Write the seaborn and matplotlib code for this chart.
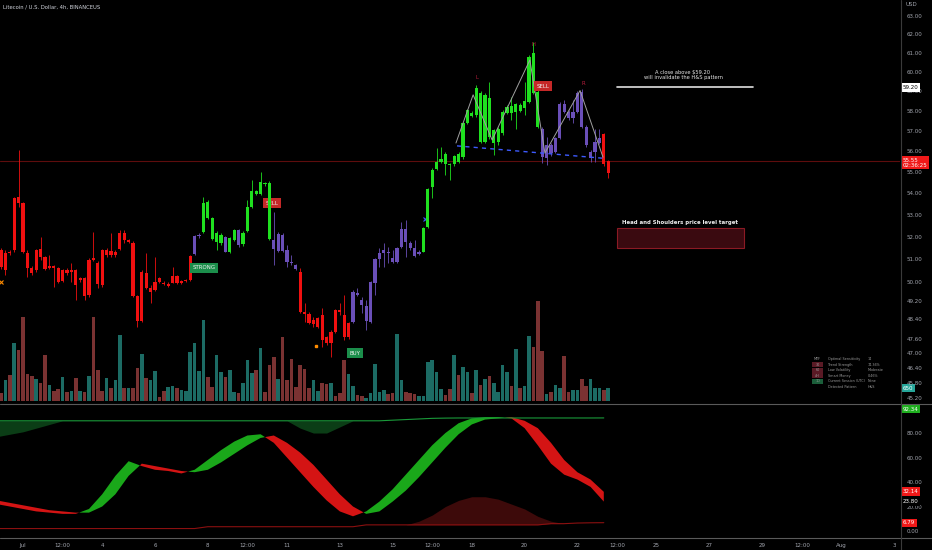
import numpy as np
import pandas as pd
import seaborn as sns
import matplotlib.pyplot as plt
import matplotlib.dates as mdates
from matplotlib.patches import Rectangle
from matplotlib.lines import Line2D

sns.set_theme(style='dark')
plt.rcParams['font.family'] = ['DejaVu Sans']

# ---- candle data (4h, LTC/USD) ----
opens = [51.41, 51.26, 51.3, 51.41, 53.53, 53.53, 51.26, 50.59, 50.52, 51.46,
         51.08, 50.6, 50.7, 50.6, 50.06, 50.5, 50.45, 50.52, 50.1, 50.16,
         49.44, 50.96, 50.84, 49.87, 51.41, 51.2, 51.33, 51.44, 52.19, 51.85,
         51.72, 49.41, 48.35, 50.38, 49.73, 49.65, 49.99, 49.97, 49.9, 49.97,
         50.26, 49.97, 50.05, 50.09, 51.24, 52.04, 52.23, 53.61, 52.84, 51.77,
         52.09, 51.99, 51.33, 51.85, 52.29, 51.68, 52.27, 53.35, 54.1, 53.95,
         54.47, 54.5, 51.85, 51.37, 52.09, 51.41, 50.89, 50.74, 50.45,
         48.7, 48.63, 48.2, 48.45, 48.58, 47.4, 47.4, 47.89, 48.8, 48.58,
         47.68, 48.31, 49.54, 49.22, 48.97, 48.31, 49.97, 50.99, 51.29, 51.33,
         51.03, 50.89, 51.56, 52.34, 51.72, 51.48, 51.24, 51.33, 52.46, 54.29,
         55.14, 55.5, 55.87, 55.39, 55.37, 55.5, 55.72, 57.39, 57.89, 57.8,
         58.9, 56.48, 58.64, 56.4, 57.12, 56.89, 57.92, 58.26, 57.97, 58.3,
         58.13, 58.47, 60.98, 58.99, 57.12, 55.67, 56.31, 55.98, 56.64, 58.35,
         57.97, 57.63, 57.97, 58.99, 57.22, 55.98, 55.98, 56.64, 56.86, 54.95]
highs = [51.5, 51.41, 51.4, 53.85, 56.07, 53.6, 51.41, 50.7, 51.45, 52.01,
         51.15, 51.2, 50.75, 50.65, 50.55, 50.6, 50.82, 50.55, 50.2, 50.2,
         51.03, 52.22, 50.9, 51.45, 51.5, 52.15, 51.4, 52.29, 52.3, 51.9,
         51.8, 49.45, 50.5, 51.26, 49.85, 51.11, 50.2, 50.05, 49.98, 50.67,
         50.3, 50.1, 50.12, 51.2, 52.1, 52.15, 53.84, 53.7, 52.9, 52.25,
         52.15, 52.05, 52.0, 52.35, 52.35, 52.25, 53.69, 54.63, 54.15, 54.99,
         54.55, 54.6, 53.15, 52.2, 52.15, 51.63, 51.18, 50.8, 50.6,
         49.08, 48.7, 48.52, 48.5, 48.87, 47.7, 47.95, 48.85, 49.08, 49.44,
         48.3, 49.65, 49.73, 49.37, 49.22, 50.05, 51.05, 51.48, 51.7, 51.56,
         51.41, 51.55, 52.68, 52.77, 51.8, 51.85, 51.4, 52.45, 54.25, 55.2,
         56.16, 56.24, 55.95, 55.45, 55.85, 55.95, 57.45, 58.1, 58.0, 59.3,
         59.0, 58.9, 59.5, 57.1, 57.2, 58.05, 58.3, 58.73, 58.4, 58.4,
         59.49, 60.9, 61.6, 59.05, 57.2, 56.72, 56.4, 56.7, 58.45, 58.56,
         58.05, 58.56, 59.0, 59.1, 57.3, 56.05, 57.12, 57.12, 56.9, 55.6]
lows = [50.55, 50.3, 51.2, 51.3, 53.37, 51.25, 50.23, 50.3, 50.45, 50.96,
        50.5, 50.55, 49.8, 49.95, 50.0, 50.3, 50.01, 49.22, 50.0, 49.22,
        49.37, 50.9, 49.73, 49.8, 51.1, 51.11, 51.1, 51.41, 51.7, 51.7,
        49.35, 48.1, 48.3, 49.7, 49.08, 49.6, 49.95, 49.85, 49.8, 49.95,
        49.9, 49.9, 50.0, 50.05, 51.2, 51.95, 52.18, 52.8, 51.85, 51.41,
        51.65, 51.3, 51.25, 51.8, 51.55, 51.6, 52.2, 53.3, 53.9, 53.9,
        54.35, 51.85, 50.74, 51.3, 51.3, 50.67, 50.75, 50.5, 48.65,
        48.31, 48.2, 48.1, 48.05, 47.27, 47.35, 46.86, 47.85, 48.6, 47.54,
        47.6, 48.25, 49.4, 48.66, 47.96, 48.25, 49.44, 50.67, 50.67, 50.82,
        50.85, 50.85, 51.5, 51.11, 51.4, 51.1, 51.2, 51.3, 52.4, 53.77,
        55.1, 55.42, 54.87, 54.63, 55.3, 55.45, 55.65, 57.35, 57.7, 57.7,
        56.4, 56.4, 56.6, 55.82, 56.3, 56.8, 57.85, 57.55, 57.12, 57.95,
        57.8, 58.4, 58.85, 57.15, 55.42, 55.34, 55.8, 55.9, 56.6, 57.9,
        57.55, 57.39, 57.9, 57.15, 56.2, 55.5, 55.5, 56.35, 55.3, 54.72]
closes = [50.66, 50.52, 51.25, 53.77, 53.85, 51.33, 50.59, 50.4, 51.41, 51.11,
          50.56, 50.7, 50.62, 50.0, 50.52, 50.4, 50.52, 49.87, 50.16, 49.41,
          50.96, 51.03, 49.91, 51.41, 51.18, 51.35, 51.2, 52.15, 51.85, 51.78,
          49.41, 48.35, 50.45, 49.73, 49.58, 49.99, 50.16, 49.9, 49.84, 50.26,
          49.97, 50.05, 50.09, 51.14, 52.04, 52.09, 53.56, 52.84, 51.89, 52.18,
          51.72, 51.33, 51.94, 52.29, 51.63, 52.18, 53.35, 54.12, 53.95, 54.55,
          54.42, 51.89, 51.44, 52.13, 51.37, 50.89, 50.82, 50.55, 48.7,
          48.63, 48.24, 48.38, 48.1, 47.54, 47.65, 47.89, 48.8, 48.7, 47.68,
          48.26, 49.58, 49.44, 49.01, 48.35, 50.01, 50.99, 51.29, 51.41, 51.26,
          50.89, 51.48, 52.34, 51.77, 51.48, 51.14, 51.33, 52.38, 54.19, 55.11,
          55.5, 55.62, 55.39, 55.34, 55.78, 55.88, 57.39, 58.05, 57.75, 59.16,
          56.48, 58.82, 56.72, 57.05, 56.48, 57.97, 58.22, 57.89, 58.35, 58.02,
          58.52, 60.8, 58.9, 57.22, 55.74, 56.31, 55.9, 56.64, 58.35, 57.97,
          57.63, 57.97, 58.9, 57.22, 56.31, 55.67, 56.48, 56.4, 55.4, 55.55]
volumes = [380, 1050, 1300, 2930, 2550, 4220, 1350, 1250, 1130, 930,
           2330, 800, 520, 620, 1220, 470, 520, 1180, 520, 470,
           1250, 4220, 1550, 520, 1180, 630, 1050, 3330, 630, 630,
           630, 1680, 2380, 1180, 1050, 1520, 220, 520, 720, 750,
           650, 550, 520, 2480, 2920, 1520, 4080, 1220, 680, 2320,
           1470, 1220, 1550, 470, 420, 920, 2050, 1420, 1550, 2680,
           470, 1800, 2220, 1130, 3220, 1080, 2130, 720, 1800,
           1630, 670, 1050, 520, 920, 850, 920, 250, 380, 2050,
           1350, 750, 300, 250, 130, 420, 1880, 470, 550, 350,
           420, 3350, 1080, 430, 420, 350, 250, 250, 1970, 2050,
           1470, 580, 300, 580, 2300, 1300, 1720, 1470, 420, 1580,
           800, 1130, 1250, 880, 470, 1800, 1470, 750, 2630, 630,
           750, 3250, 2720, 5020, 2520, 330, 470, 800, 630, 2250,
           470, 550, 550, 1130, 750, 1130, 630, 630, 550, 650]
# t = teal (up) volume bar, r = red (down) volume bar
vol_dir = list('rtrtrrrrtr' 'rtrrtrtrtr' 'trrrtrttrt' 'rrtrttrrtt' 'rttttttrrt'
               'trttrtttrt' 'rrrtrrrrr' 'rrttrrtrrr' 'ttrrtttttr' 'rttrrrtttt'
               'ttrrtrttrt' 'rtrttttrtr' 'ttrrrtrttr' 'rttrrtttrt')
# trend state colouring of the candles (run lengths)
trend_runs = [('r', 44), ('p', 2), ('g', 5), ('p', 1), ('g', 2), ('p', 1),
              ('g', 7), ('p', 6), ('r', 12), ('p', 16), ('g', 27), ('p', 14),
              ('r', 2)]

# ---- oscillator (lower pane), one value every 12h ----
osc_fast = [22, 20, 18, 16, 15, 14, 14, 18, 30, 45, 57, 53, 50, 49, 47, 50,
            58, 66, 73, 78, 79, 72, 60, 48, 36, 25, 16, 12, 16, 24, 34, 46,
            58, 70, 80, 88, 92, 93, 93, 92, 84, 70, 55, 46, 42, 36, 24]
osc_slow = [25, 23, 21, 19, 17, 16, 15, 15, 20, 30, 45, 55, 53, 51, 49, 48,
            50, 56, 63, 70, 76, 78, 72, 64, 54, 42, 30, 20, 14, 16, 24, 33,
            44, 56, 68, 79, 87, 91, 92, 93, 90, 84, 72, 58, 48, 42, 32]
osc_top = [90, 90, 90, 90, 90, 90, 90, 90, 90, 90, 90, 90, 90, 90, 90, 90,
           90, 90, 90, 90, 90, 90, 90, 90, 90, 90, 90, 90, 90, 90, 90.5, 91,
           91.5, 92, 92.2, 92.3, 92.3, 92.3, 92.3, 92.3, 92.3, 92.3, 92.3,
           92.3, 92.3, 92.3, 92.34]
osc_top_cloud = [77, 79, 81, 84, 87, 90, 90, 90, 90, 90, 90, 90, 90, 90, 90,
                 90, 90, 90, 90, 90, 90, 90, 90, 84, 80, 80, 85, 90, 90, 90,
                 90.5, 91, 91.5, 92, 92.2, 92.3, 92.3, 92.3, 92.3, 92.3, 92.3,
                 92.3, 92.3, 92.3, 92.3, 92.3, 92.34]
osc_bottom = [2, 2, 2, 2, 2, 2, 2, 2, 2, 2, 2, 2, 2, 2, 2, 2, 3.5, 3.5, 3.5,
              3.5, 3.5, 3.5, 3.5, 3.5, 3.5, 3.5, 3.5, 3.5, 5, 5, 5, 5, 5, 5,
              5, 5, 5, 5, 5, 5, 5, 5, 6, 6, 6.5, 6.7, 6.79]
osc_bottom_cloud = [2, 2, 2, 2, 2, 2, 2, 2, 2, 2, 2, 2, 2, 2, 2, 2, 3.5, 3.5,
                    3.5, 3.5, 3.5, 3.5, 3.5, 3.5, 3.5, 3.5, 3.5, 3.5, 5, 5, 5,
                    5, 8, 13, 20, 25, 28, 28, 26, 22, 18, 12, 8, 6, 6.5, 6.7,
                    6.79]

# ---- build series ----
times = pd.date_range('2022-06-30 04:00', periods=len(closes), freq='4h')
xs = mdates.date2num(times)
trend = [c for c, n in trend_runs for _ in range(n)]
osc_t = mdates.date2num(pd.date_range('2022-06-30 00:00', periods=len(osc_fast), freq='12h'))

W, H = 932, 550
BG = '#000000'
AX_TXT = '#a3a6af'
COL = {'r': '#f01010', 'g': '#1fe01f', 'p': '#6a4fb8'}
VCOL = {'t': '#1c6b64', 'r': '#7a3232'}


def frac(x0, y0, x1, y1):
    return [x0 / W, 1 - y1 / H, (x1 - x0) / W, (y1 - y0) / H]


def day(d):
    return mdates.date2num(pd.Timestamp('2022-07-01') + pd.Timedelta(days=d))


fig = plt.figure(figsize=(9.32, 5.5), dpi=100, facecolor=BG)
axv = fig.add_axes(frac(0, 0, 900, 403))
ax = fig.add_axes(frac(0, 0, 900, 403), sharex=axv)
ax2 = fig.add_axes(frac(0, 405, 900, 537), sharex=axv)
axv.set_facecolor(BG)
ax.set_facecolor('none')
ax2.set_facecolor(BG)

x0, x1 = day(-23 / 26.4), day(877 / 26.4)

# volume
vc = [VCOL[d] for d in vol_dir]
axv.bar(xs, volumes, width=4 / 24 * 0.8, color=vc, linewidth=0)
axv.set_ylim(-100, 20150)
axv.set_yticks([])

# candles
cw = 4 / 24 * 0.75
cc = [COL[t] for t in trend]
ax.vlines(xs, lows, highs, colors=cc, linewidth=0.6, zorder=3)
bottoms = np.minimum(opens, closes)
heights = np.maximum(np.abs(np.array(closes) - np.array(opens)), 0.03)
ax.bar(xs, heights, bottom=bottoms, width=cw, color=cc, linewidth=0, zorder=4)

ax.set_yscale('log')
ax.set_ylim(45.01, 63.87)
pticks = [45.2, 45.8, 46.4, 47.0, 47.6, 48.4, 49.2, 50, 51, 52, 53, 54, 55,
          56, 57, 58, 59, 60, 61, 62, 63]
ax.yaxis.set_major_locator(plt.FixedLocator(pticks))
ax.yaxis.set_minor_locator(plt.NullLocator())
ax.set_yticklabels(['%.2f' % v for v in pticks])
ax.yaxis.tick_right()
ax.tick_params(axis='y', colors=AX_TXT, labelsize=4, length=0, pad=5)
ax.tick_params(axis='x', bottom=False, labelbottom=False)
axv.tick_params(axis='x', bottom=False, labelbottom=False)
for a in (ax, axv, ax2):
    for s in a.spines.values():
        s.set_visible(False)
    a.grid(False)
ax.set_xlim(x0, x1)

# current price line
ax.axhline(55.55, color='#5e0d0d', linewidth=0.8, zorder=1)

# H&S pattern
pat_days = [16.40, 17.05, 17.77, 19.20, 19.77, 21.10, 21.97]
pat_price = [56.41, 58.82, 56.56, 60.63, 55.92, 59.04, 55.72]
ax.plot([day(d) for d in pat_days], pat_price, color='#a0a0a0', lw=0.7, zorder=5)
ax.plot([day(16.44), day(21.97)], [56.27, 55.67], color='#3d5afe', lw=1,
        dashes=(3, 3), zorder=5)
for lab, d, p in [('L', 17.2, 59.7), ('H', 19.32, 61.44), ('R', 21.21, 59.4)]:
    ax.text(day(d), p, lab, color='#b71c3c', fontsize=3.8, ha='center',
            va='center', zorder=6)


# signal labels
def sig(text, d, p, fc, zo=2):
    ax.text(day(d), p, text, color='#f2f2f2', fontsize=4, ha='center', va='center',
            zorder=zo, bbox=dict(boxstyle='square,pad=0.45', fc=fc, ec='none'))


sig('SELL', 19.70, 59.27, '#c62828', 6)
sig('SELL', 9.43, 53.53, '#c62828', 2)
sig('STRONG', 6.86, 50.61, '#1b8e4b', 6)
sig('BUY', 12.58, 47.0, '#1b8e4b', 6)
ax.plot(day(-0.83), 50.0, marker='x', color='#ff8c00', ms=2.5, mew=0.8)
ax.plot(day(11.1), 47.3, marker='s', color='#ff8c00', ms=2)
ax.plot(day(15.23), 52.82, marker='x', color='#3d5afe', ms=2.5, mew=0.8)

# invalidation line + target box
ax.plot([day(22.5), day(27.65)], [59.2, 59.2], color='#e0e0e0', lw=1.2, zorder=5)
ax.text(day(25.0), 59.85, 'A close above $59.20\nwill invalidate the H&S pattern',
        color='#e6e6e6', fontsize=3.7, ha='center', va='center', linespacing=1.15)
ax.add_patch(Rectangle((day(22.5), 51.50), day(27.31) - day(22.5), 0.90,
                       fc='#3a0a10', ec='#8b1a24', lw=0.8, zorder=5))
ax.text(day(24.9), 52.67, 'Head and Shoulders price level target', color='#f0f0f0',
        fontsize=3.9, fontweight='bold', ha='center', va='center')

# dashboard table (bottom right of price pane)
rows = [('MTF', 'Optimal Sensitivity', '14', None),
        ('30', 'Trend Strength', '74.36%', '#5a1a25'),
        ('60', 'Low Volatility', 'Moderate', '#5a1a25'),
        ('4H', 'Smart Money', '0.46%', '#5a1a25'),
        ('1D', 'Current Session (UTC)', 'None', '#1b5e3a'),
        ('', 'Detected Pattern', 'H&S', None)]
for i, (a, b, c, fc) in enumerate(rows):
    yy = 1 - (359 + i * 5.6) / H
    if fc:
        fig.patches.append(Rectangle((812 / W, yy - 2.6 / H), 11 / W, 5.2 / H,
                                     transform=fig.transFigure, fc=fc, ec='none'))
    fig.text(817.5 / W, yy, a, color='#9a9a9a', fontsize=2.4, ha='center', va='center')
    fig.text(828 / W, yy, b, color='#9a9a9a', fontsize=2.4, va='center')
    fig.text(868 / W, yy, c, color='#9a9a9a', fontsize=2.4, va='center')

# right axis labels
ty = ax.get_yaxis_transform()
ax.text(1.003, 59.2, '59.20', transform=ty, color='black', fontsize=4, va='center',
        bbox=dict(boxstyle='square,pad=0.3', fc='white', ec='none'), clip_on=False)
ax.text(1.003, 55.45, '55.55\n02:36:25', transform=ty, color='white', fontsize=4,
        va='center', linespacing=1.0, clip_on=False,
        bbox=dict(boxstyle='square,pad=0.3', fc='#f01818', ec='none'))
axv.text(1.003, 650, '650', transform=axv.get_yaxis_transform(), color='white',
         fontsize=4, va='center', clip_on=False,
         bbox=dict(boxstyle='square,pad=0.3', fc='#26a69a', ec='none'))

# ---- oscillator pane ----
ot = np.array(osc_t)
f = np.array(osc_fast, float)
s = np.array(osc_slow, float)
ax2.fill_between(ot, osc_top_cloud, osc_top, color='#0b3d16', lw=0)
ax2.fill_between(ot, osc_bottom, osc_bottom_cloud, color='#3d0a0a', lw=0)
ax2.fill_between(ot, f, s, where=f >= s, interpolate=True, color='#1aa81a', lw=0)
ax2.fill_between(ot, f, s, where=f < s, interpolate=True, color='#d41414', lw=0)
sns.lineplot(x=ot, y=osc_top, ax=ax2, color='#1a9a3a', linewidth=0.8, legend=False)
sns.lineplot(x=ot, y=osc_bottom, ax=ax2, color='#8b1010', linewidth=0.8, legend=False)
ax2.set_ylim(-4.9, 102.9)
oticks = [0, 20, 40, 60, 80]
ax2.set_yticks(oticks)
ax2.set_yticklabels(['%.2f' % v for v in oticks])
ax2.yaxis.tick_right()
ax2.tick_params(axis='y', colors=AX_TXT, labelsize=4, length=0, pad=5)
ty2 = ax2.get_yaxis_transform()
for val, lab, fc in [(99.5, '92.34', '#1fb01f'), (32.14, '32.14', '#f01818'),
                     (23.80, '23.80', '#000000'), (6.79, '6.79', '#f01818')]:
    ax2.text(1.003, val, lab, transform=ty2, color='white', fontsize=4,
             va='center', clip_on=False,
             bbox=dict(boxstyle='square,pad=0.3', fc=fc, ec='none'))

# time axis
tick_days = [0, 1.5, 3, 5, 7, 8.5, 10, 12, 14, 15.5, 17, 19, 21, 22.5, 24, 26,
             28, 29.5, 31, 33]
tick_labs = ['Jul', '12:00', '4', '6', '8', '12:00', '11', '13', '15', '12:00',
             '18', '20', '22', '12:00', '25', '27', '29', '12:00', 'Aug', '3']
ax2.set_xticks([day(d) for d in tick_days])
ax2.set_xticklabels(tick_labs)
ax2.tick_params(axis='x', colors=AX_TXT, labelsize=4, length=0, pad=4)
ax2.set_xlim(x0, x1)

# frame lines
for yy in (403.5, 537.5):
    fig.add_artist(Line2D([0, 1], [1 - yy / H] * 2, color='#5a5a5a', lw=0.8))
fig.add_artist(Line2D([900.5 / W] * 2, [0, 1], color='#3a3a3a', lw=0.8))

fig.text(3 / W, 1 - 7 / H, 'Litecoin / U.S. Dollar, 4h, BINANCEUS', color='#d1d4dc',
         fontsize=3.8, va='center')
fig.text(905 / W, 1 - 5 / H, 'USD', color=AX_TXT, fontsize=4, va='center')

fig.savefig('out.png', dpi=100, facecolor=BG)
